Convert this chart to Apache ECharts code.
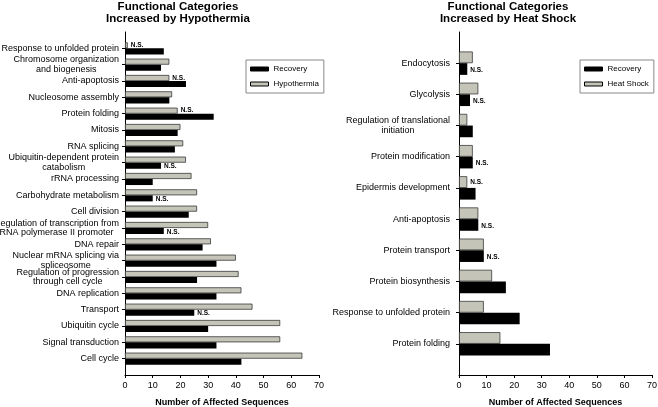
<!DOCTYPE html>
<html><head><meta charset="utf-8">
<script src="https://cdn.jsdelivr.net/npm/echarts@6/dist/echarts.min.js"></script>
<style>html,body{margin:0;padding:0;background:#fff}#c{width:658px;height:407px}</style>
</head><body><div id="c"></div>
<script>
// ---- Left chart: Hypothermia ----
const hypoCategories = [
  'Response to unfolded protein',
  'Chromosome organization\nand biogenesis',
  'Anti-apoptosis',
  'Nucleosome assembly',
  'Protein folding',
  'Mitosis',
  'RNA splicing',
  'Ubiquitin-dependent protein\ncatabolism',
  'rRNA processing',
  'Carbohydrate metabolism',
  'Cell division',
  'Regulation of transcription from\nRNA polymerase II promoter',
  'DNA repair',
  'Nuclear mRNA splicing via\nspliceosome',
  'Regulation of progression\nthrough cell cycle',
  'DNA replication',
  'Transport',
  'Ubiquitin cycle',
  'Signal transduction',
  'Cell cycle'
];
const hypoHypothermia = [1, 16, 16, 17, 19, 20, 21, 22, 24, 26, 26, 30, 31, 40, 41, 42, 46, 56, 56, 64];
const hypoRecovery    = [14, 13, 22, 16, 32, 19, 18, 13, 10, 10, 23, 14, 28, 33, 26, 33, 25, 30, 33, 42];
const hypoHypothermiaNS = ['Response to unfolded protein', 'Anti-apoptosis', 'Protein folding'];
const hypoRecoveryNS = ['Ubiquitin-dependent protein\ncatabolism', 'Carbohydrate metabolism',
  'Regulation of transcription from\nRNA polymerase II promoter', 'Transport'];

// ---- Right chart: Heat Shock ----
const heatCategories = [
  'Endocytosis',
  'Glycolysis',
  'Regulation of translational\ninitiation',
  'Protein modification',
  'Epidermis development',
  'Anti-apoptosis',
  'Protein transport',
  'Protein biosynthesis',
  'Response to unfolded protein',
  'Protein folding'
];
const heatHeatShock = [5, 7, 3, 5, 3, 7, 9, 12, 9, 15];
const heatRecovery  = [3, 4, 5, 5, 6, 7, 9, 17, 22, 33];
const heatHeatShockNS = ['Epidermis development'];
const heatRecoveryNS = ['Endocytosis', 'Glycolysis', 'Protein modification', 'Anti-apoptosis', 'Protein transport'];

const xMin = 0, xMax = 70, xStep = 10;
const nsText = 'N.S.';

const FONT = "'Liberation Sans', Arial, sans-serif";
const GRAY = '#c4c4b8';
const BLACK = '#000000';

function pad(arr) { return [''].concat(arr, ['']); }
function padData(cats, vals, nsList) {
  const d = cats.map((c, i) => {
    const item = { value: vals[i] };
    if (nsList.indexOf(c) >= 0) item.label = { show: true };
    return item;
  });
  return [null].concat(d, [null]);
}
function yAxisFor(idx, cats, margin) {
  const padded = pad(cats);
  return {
    gridIndex: idx, type: 'category', data: padded, inverse: true, boundaryGap: false,
    axisLine: { show: true, lineStyle: { color: '#000', width: 1 } },
    axisTick: { show: true, length: 3, lineStyle: { color: '#000' },
      interval: (i) => i !== 0 && i !== padded.length - 1 },
    axisLabel: {
      interval: 0, margin: margin, fontSize: 9, fontFamily: FONT, color: '#000', lineHeight: 9.5,
      formatter: (v) => v === '' ? '' : v.split('\n').map(s => '{c|' + s + '}').join('\n'),
      rich: { c: { align: 'center', fontSize: 9, fontFamily: FONT, color: '#000', lineHeight: 9.5 } }
    },
    splitLine: { show: false }
  };
}
function xAxisFor(idx) {
  return {
    gridIndex: idx, type: 'value', min: xMin, max: xMax, interval: xStep,
    name: 'Number of Affected Sequences', nameLocation: 'middle', nameGap: 23,
    nameTextStyle: { fontSize: 9, fontWeight: 'bold', fontFamily: FONT, color: '#000' },
    axisLine: { show: true, lineStyle: { color: '#000', width: 1 } },
    axisTick: { show: true, length: 3, lineStyle: { color: '#000' } },
    axisLabel: { fontSize: 9, fontFamily: FONT, color: '#000', margin: 6 },
    splitLine: { show: false }
  };
}
const nsLabel = (dy) => ({
  show: false, position: 'right', distance: 3, formatter: nsText, offset: [0, dy],
  fontSize: 6.5, fontWeight: 'bold', fontFamily: FONT, color: '#000'
});
function barSeries(name, idx, data, color, gap) {
  return {
    name: name, type: 'bar', xAxisIndex: idx, yAxisIndex: idx, data: data,
    barGap: '0%', barCategoryGap: gap,
    itemStyle: { color: color, borderColor: color === BLACK ? '#000' : '#3a3a3a', borderWidth: color === BLACK ? 0 : 0.8 },
    label: nsLabel(color === BLACK ? 1 : 0),
    emphasis: { disabled: true }, animation: false
  };
}
const titleStyle = { fontSize: 11.5, fontWeight: 'bold', fontFamily: FONT, color: '#000', lineHeight: 12.5 };
const legendBase = {
  orient: 'vertical', itemWidth: 18, itemHeight: 4, itemGap: 7, icon: 'rect',
  padding: [5, 5, 5, 4], borderColor: '#888', borderWidth: 1,
  textStyle: { fontSize: 8, fontFamily: FONT, color: '#000' },
  selectedMode: false
};

const chart = echarts.init(document.getElementById('c'), null, { renderer: 'canvas' });
chart.setOption({
  animation: false,
  backgroundColor: '#fff',
  title: [
    { text: 'Functional Categories\nIncreased by Hypothermia', left: 178, top: 0.5, textAlign: 'center', padding: 0, textStyle: titleStyle },
    { text: 'Functional Categories\nIncreased by Heat Shock', left: 508, top: 0.5, textAlign: 'center', padding: 0, textStyle: titleStyle }
  ],
  legend: [
    Object.assign({}, legendBase, { left: 246, top: 60,
      data: [{ name: 'Recovery', itemStyle: { color: BLACK, borderColor: '#000', borderWidth: 1 } },
             { name: 'Hypothermia', itemStyle: { color: GRAY, borderColor: '#000', borderWidth: 1 } }] }),
    Object.assign({}, legendBase, { left: 580, top: 60,
      data: [{ name: 'Recovery', itemStyle: { color: BLACK, borderColor: '#000', borderWidth: 1 } },
             { name: 'Heat Shock', itemStyle: { color: GRAY, borderColor: '#000', borderWidth: 1 } }] })
  ],
  grid: [
    { left: 125, right: 339, top: 32, bottom: 32, containLabel: false, outerBoundsMode: 'none' },
    { left: 459, right: 6, top: 32, bottom: 32, containLabel: false, outerBoundsMode: 'none' }
  ],
  xAxis: [xAxisFor(0), xAxisFor(1)],
  yAxis: [yAxisFor(0, hypoCategories, 6), yAxisFor(1, heatCategories, 9)],
  series: [
    barSeries('Hypothermia', 0, padData(hypoCategories, hypoHypothermia, hypoHypothermiaNS), GRAY, '26%'),
    barSeries('Recovery', 0, padData(hypoCategories, hypoRecovery, hypoRecoveryNS), BLACK, '26%'),
    barSeries('Heat Shock', 1, padData(heatCategories, heatHeatShock, heatHeatShockNS), GRAY, '25%'),
    barSeries('Recovery', 1, padData(heatCategories, heatRecovery, heatRecoveryNS), BLACK, '25%')
  ]
});
</script>
</body></html>
